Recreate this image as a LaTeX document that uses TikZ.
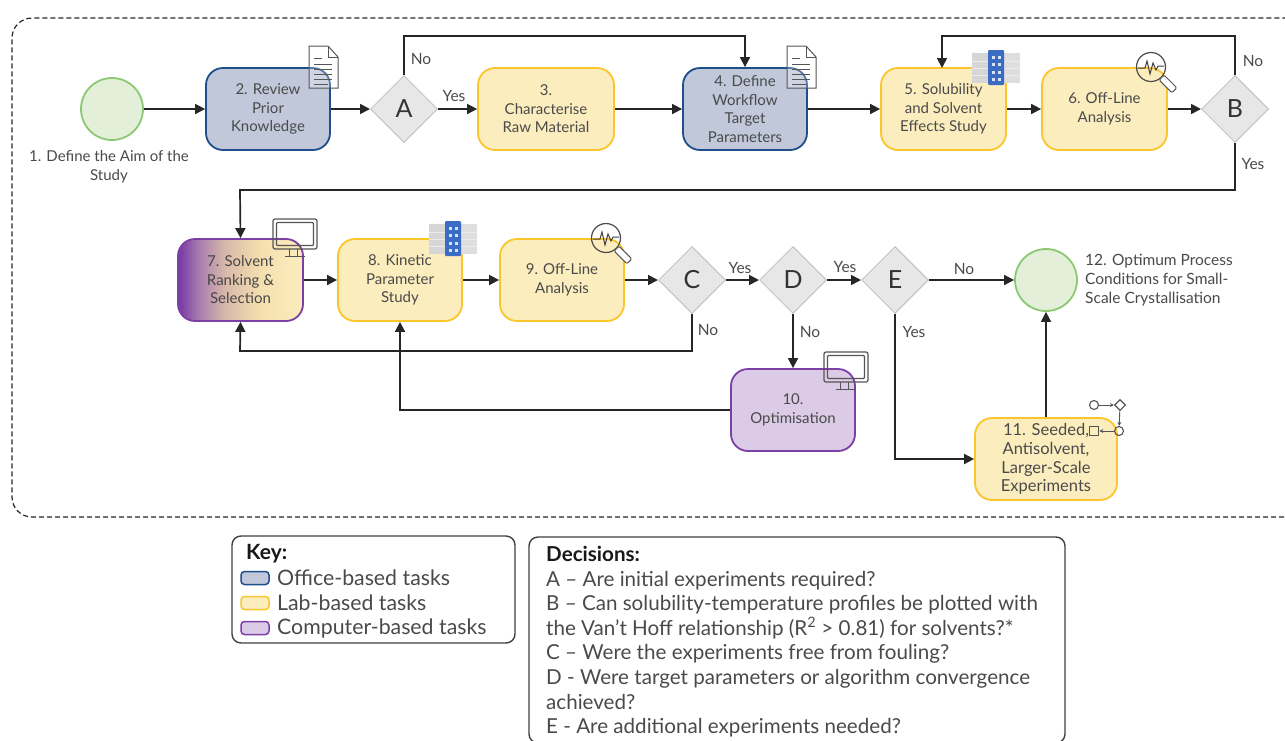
\documentclass[tikz,border=0pt]{standalone}
\usepackage{fontspec}
\setmainfont{Lato}
\usetikzlibrary{arrows.meta,shapes.geometric}
\definecolor{offB}{HTML}{1F4E8C}\definecolor{offF}{HTML}{C0C8DA}
\definecolor{labB}{HTML}{FCC52B}\definecolor{labF}{HTML}{FCEDBE}
\definecolor{comB}{HTML}{7B3FA6}\definecolor{comF}{HTML}{DCCBE6}
\definecolor{txt}{HTML}{4A4A4A}\definecolor{dia}{HTML}{E7E7E7}\definecolor{diaB}{HTML}{C4C4C4}
\definecolor{grnB}{HTML}{8CC973}\definecolor{grnF}{HTML}{E3EFD9}
\definecolor{icn}{HTML}{555555}\definecolor{tblue}{HTML}{3A6CC4}
\pgfdeclarehorizontalshading{solvgrad}{100bp}{color(0bp)=(comB); color(26bp)=(comB); color(34bp)=(comB!62!labF); color(44bp)=(comB!25!labF!88!brown); color(58bp)=(labF!88!brown); color(75bp)=(labF); color(100bp)=(labF)}
\tikzset{
 x=1pt,y=-1pt,
 taskbox/.style={rounded corners=17pt,line width=1.8pt,align=center,font=\fontsize{15}{18.5}\selectfont,text=txt,inner sep=0pt},
 officebox/.style={taskbox,draw=offB,fill=offF,minimum height=82pt},
 labbox/.style={taskbox,draw=labB,fill=labF,minimum height=82pt},
 compbox/.style={taskbox,draw=comB,fill=comF,minimum height=82pt},
 decis/.style={diamond,aspect=1,draw=diaB,fill=dia,line width=1pt,minimum width=67pt,minimum height=67pt,inner sep=0pt,font=\fontsize{25}{25}\selectfont,text=black!80},
 termin/.style={circle,draw=grnB,fill=grnF,line width=1.8pt,minimum size=62pt,inner sep=0pt},
 conn/.style={line width=1.7pt,draw=black!85,-{Triangle[length=10pt,width=10pt]}},
 lbl/.style={font=\fontsize{15.5}{17}\selectfont,text=txt,inner sep=0pt},
 captxt/.style={font=\fontsize{15}{19}\selectfont,text=txt,inner sep=0pt,align=center},
 keyswatch/.style={rounded corners=3.5pt,line width=1.5pt,minimum width=28pt,minimum height=13pt,inner sep=0pt},
 keybox/.style={draw=black!75,line width=1.4pt,fill=white,rounded corners=9pt},
}
\newcommand{\docicon}[2]{\begin{scope}[shift={(#1,#2)}]
 \draw[icn,line width=1pt,fill=white,fill opacity=0.25] (-14,-21)--(5,-21)--(15,-10)--(15,21)--(-14,21)--cycle;
 \draw[icn,line width=1pt] (5,-21)--(5,-10)--(15,-10);
 \foreach \yy/\xa/\xb in {-9/-9/-1,-3/-9/9,2/-9/9,7/-9/9,12/-9/9,17/-9/5}\draw[icn,line width=0.9pt] (\xa,\yy)--(\xb,\yy);
\end{scope}}
\newcommand{\tableicon}[2]{\begin{scope}[shift={(#1,#2)}]
 \fill[black!16] (-24,-15) rectangle (-1,15);
 \fill[black!13] (1,-15) rectangle (24,15);
 \foreach \yy in {-7,0,7}{\draw[black!8,line width=0.5pt] (-24,\yy)--(24,\yy);}
 \fill[tblue,rounded corners=1pt] (-8,-18) rectangle (8,17);
 \foreach \yy in {-12,-5,3,10}{\fill[white!80!tblue] (-4,\yy) rectangle +(2.5,2.5); \fill[white!80!tblue] (2,\yy) rectangle +(2.5,2.5);}
\end{scope}}
\newcommand{\lensicon}[2]{\begin{scope}[shift={(#1,#2)}]
 \draw[black!70,line width=1.2pt] (0,0) circle (14.5);
 \draw[black!75,line width=1pt] (-13,1)--(-6,1)--(-4,-6)--(-1,7)--(2,-4)--(5,3)--(7,-1)--(13,-1);
 \draw[icn,line width=1pt,fill=white,rounded corners=1.5pt,rotate=-45] (15,-3.5) rectangle (33,3.5);
\end{scope}}
\newcommand{\monicon}[2]{\begin{scope}[shift={(#1,#2)}]
 \draw[icn,line width=1.2pt,rounded corners=2pt] (-22,-19) rectangle (22,11);
 \draw[icn,line width=1.2pt,rounded corners=1pt] (-18.5,-15.5) rectangle (18.5,7.5);
 \draw[icn,line width=1pt] (-6,11)--(-6,18) (2,11)--(2,18) (-10,18)--(10,18);
\end{scope}}
\begin{document}
\begin{tikzpicture}
\useasboundingbox (0,0) rectangle (1285,740);
\fill[white] (0,0) rectangle (1285,740);
\draw[black!85,line width=1.2pt,rounded corners=20pt,dash pattern=on 5pt off 3pt] (1300,517) -- (12,517) -- (12,18) -- (1300,18);

% nodes
\node[termin] (n1) at (112,109) {};
\node[captxt] (c1) at (109,167) {1. Define the Aim of the\\Study};
\node[officebox,minimum width=124pt] (n2) at (268,109) {2. Review\\Prior\\Knowledge};
\node[decis] (A) at (404,109) {A};
\node[labbox,minimum width=136pt] (n3) at (546,109) {3.\\Characterise\\Raw Material};
\node[officebox,minimum width=124pt] (n4) at (745,109) {4. Define\\Workflow\\Target\\Parameters};
\node[labbox,minimum width=125pt] (n5) at (943.5,109) {5. Solubility\\and Solvent\\Effects Study};
\node[labbox,minimum width=125pt] (n6) at (1104.5,109) {6. Off-Line\\Analysis};
\node[decis] (B) at (1235,109) {B};
\node[taskbox,minimum width=125pt,minimum height=82pt,draw=comB,shade,shading=solvgrad] (n7) at (240.5,280) {\textcolor{black!72}{7. Solvent}\\\textcolor{black!72}{Ranking \&}\\\textcolor{black!72}{Selection}};
\node[labbox,minimum width=124pt] (n8) at (400,280) {8. Kinetic\\Parameter\\Study};
\node[labbox,minimum width=124pt] (n9) at (562,280) {9. Off-Line\\Analysis};
\node[decis] (C) at (692,280) {C};
\node[decis] (D) at (793,280) {D};
\node[decis] (E) at (895,280) {E};
\node[termin] (n12) at (1046,280) {};
\node[captxt,font=\fontsize{15.5}{19}\selectfont,align=left,anchor=west] (c12) at (1085,280) {12. Optimum Process\\Conditions for Small-\\Scale Crystallisation};
\node[compbox,minimum width=124pt] (n10) at (793,410) {10.\\Optimisation};
\node[labbox,minimum width=142pt,font=\fontsize{16.5}{18.8}\selectfont] (n11) at (1046,459) {11. Seeded,\\Antisolvent,\\Larger-Scale\\Experiments};

% icons
\docicon{323}{67}
\docicon{801}{67}
\tableicon{996}{68}
\tableicon{453}{239}
\lensicon{1151}{67}
\lensicon{606}{238}
\monicon{295}{238}
\monicon{846}{371}
% flow glyph
\node[circle,draw=icn,line width=1.1pt,minimum size=9pt,inner sep=0pt] (g1) at (1094,405) {};
\node[diamond,aspect=1,draw=icn,line width=1.1pt,minimum width=11pt,minimum height=11pt,inner sep=0pt] (g2) at (1120,405) {};
\node[circle,draw=icn,line width=1.1pt,minimum size=9pt,inner sep=0pt] (g3) at (1119,431) {};
\node[rectangle,draw=icn,line width=1.1pt,minimum size=9.5pt,inner sep=0pt] (g4) at (1094,431) {};
\foreach \p/\q in {g1/g2,g2/g3,g3/g4}\draw[icn,line width=0.9pt,-{Stealth[length=4pt,width=4pt]}] (\p)--(\q);

% connectors
\draw[conn] (n1)--(n2);
\draw[conn] (n2)--(A);
\draw[conn] (A)--(n3);
\draw[conn] (n3)--(n4);
\draw[conn] (n4)--(n5);
\draw[conn] (n5)--(n6);
\draw[conn] (n6)--(B);
\draw[conn] (A.north)--(404,36)--(745,36)--(n4.north);
\draw[conn] (B.north)--(1235,36)--(942,36)--(942,68);
\draw[conn] (B.south)--(1235,190)--(240,190)--(n7.north);
\draw[conn] (n7)--(n8);
\draw[conn] (n8)--(n9);
\draw[conn] (n9)--(C);
\draw[conn] (C)--(D);
\draw[conn] (D)--(E);
\draw[conn] (E)--(n12);
\draw[conn] (C.south)--(692,351)--(240,351)--(n7.south);
\draw[conn] (D)--(n10);
\draw[conn] (n10.west)--(400,410)--(n8.south);
\draw[conn] (E.south)--(895,459)--(n11.west);
\draw[conn] (n11.north)--(n12.south);

% labels
\node[lbl] (lA1) at (421,59) {No};
\node[lbl] (lA2) at (454,96) {Yes};
\node[lbl] (lB1) at (1253,61) {No};
\node[lbl] (lB2) at (1253,164) {Yes};
\node[lbl] (lC1) at (740,268) {Yes};
\node[lbl] (lC2) at (708,330) {No};
\node[lbl] (lD1) at (845,267) {Yes};
\node[lbl] (lD2) at (810,332) {No};
\node[lbl] (lE1) at (964,269) {No};
\node[lbl] (lE2) at (914,332) {Yes};

% key
\node[keybox,minimum width=283pt,minimum height=107pt] (key) at (373.5,589.5) {};
\node[font=\bfseries\fontsize{21}{21}\selectfont,text=black!90,anchor=west,inner sep=0pt] (kt) at (246,554) {Key:};
\node[keyswatch,draw=offB,fill=offF] (k1) at (255,578) {};
\node[keyswatch,draw=labB,fill=labF] (k2) at (255,603) {};
\node[keyswatch,draw=comB,fill=comF] (k3) at (255,628) {};
\node[font=\fontsize{21.3}{21}\selectfont,text=txt,anchor=west,inner sep=0pt] (kl1) at (277,578) {Office-based tasks};
\node[font=\fontsize{21.3}{21}\selectfont,text=txt,anchor=west,inner sep=0pt] (kl2) at (277,603) {Lab-based tasks};
\node[font=\fontsize{21.3}{21}\selectfont,text=txt,anchor=west,inner sep=0pt] (kl3) at (277,628) {Computer-based tasks};

% decisions
\node[keybox,minimum width=536pt,minimum height=206pt] (decbox) at (797,640) {};
\node[anchor=north west,align=left,inner sep=0pt,font=\fontsize{20.6}{24.6}\selectfont,text=txt] (dec) at (546,546) {\textbf{\textcolor{black!90}{Decisions:}}\\
A – Are initial experiments required?\\
B – Can solubility-temperature profiles be plotted with\\
the Van’t Hoff relationship (R\textsuperscript{2} > 0.81) for solvents?*\\
C – Were the experiments free from fouling?\\
D - Were target parameters or algorithm convergence\\
achieved?\\
E - Are additional experiments needed?};
\end{tikzpicture}
\end{document}
